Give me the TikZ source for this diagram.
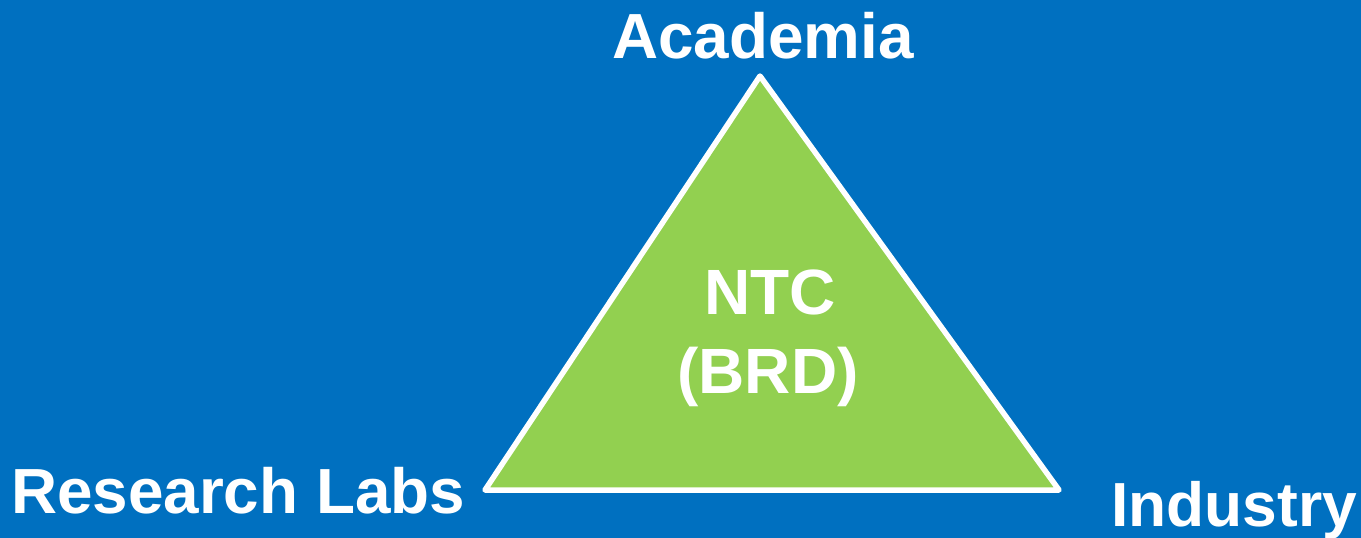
\documentclass[tikz,border=0pt]{standalone}
\usepackage{fontspec}
\setmainfont{Liberation Sans}
\definecolor{bgblue}{HTML}{0070C0}
\definecolor{trigreen}{HTML}{92D050}
\tikzset{
  lbl/.style={text=white, font=\fontsize{63.8}{76}\selectfont\bfseries, inner sep=0pt, anchor=base west},
  ctr/.style={text=white, font=\fontsize{64}{79}\selectfont\bfseries, inner sep=0pt, align=center, anchor=base}
}
\begin{document}
\begin{tikzpicture}[x=1pt,y=-1pt]
\fill[bgblue] (0,0) rectangle (1361,538);
\useasboundingbox (0,0) rectangle (1361,538);
\coordinate (t) at (760,76);
\coordinate (l) at (485,490);
\coordinate (r) at (1059,490);
\filldraw[fill=trigreen, draw=white, line width=5.5pt, line join=round] (t) -- (l) -- (r) -- cycle;
\node[lbl] (acad) at (612,58) {Academia};
\node[lbl] (res) at (11,513) {Research Labs};
\node[lbl, font=\fontsize{62.3}{74}\selectfont\bfseries] (ind) at (1111,526) {Industry};
\node[ctr] (ntc) at (770,314) {NTC};
\node[ctr] (brd) at (768,393) {(BRD)};
\end{tikzpicture}
\end{document}
